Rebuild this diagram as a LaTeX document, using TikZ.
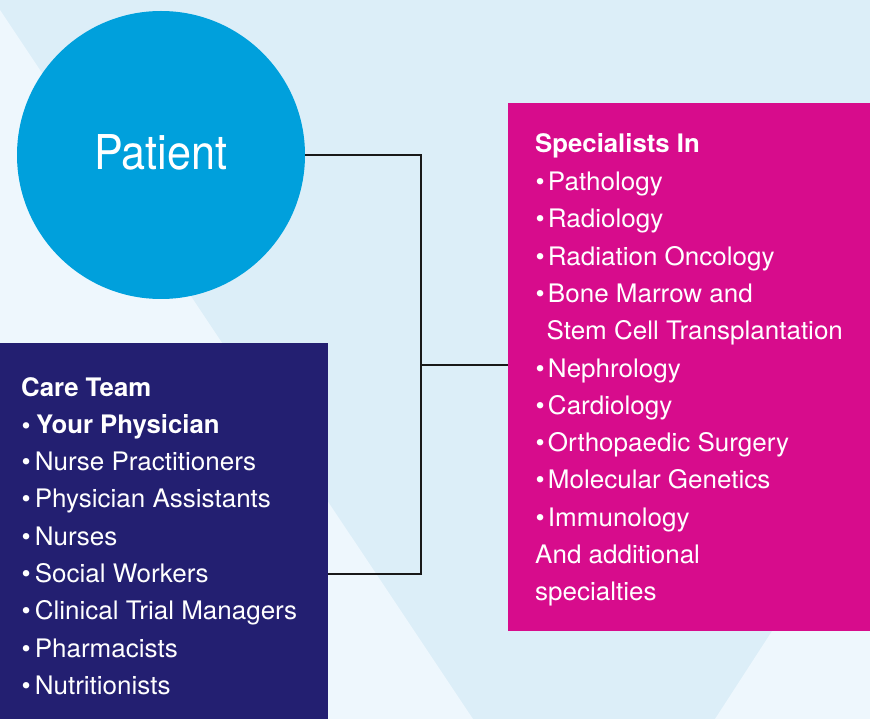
\documentclass[tikz,border=0pt]{standalone}
\usepackage{fontspec}
\setmainfont[UprightFeatures={FakeStretch=1.02},BoldFeatures={FakeStretch=1.01}]{TeX Gyre Heros}
\newfontfamily\patfont[FakeStretch=0.9]{TeX Gyre Heros}
\definecolor{bgmain}{HTML}{DCEEF8}
\definecolor{bglight}{HTML}{EEF7FD}
\definecolor{patblue}{HTML}{00A0DC}
\definecolor{careblue}{HTML}{231F71}
\definecolor{specmag}{HTML}{D70C8C}
\newcommand\bul{\makebox[12.3pt][l]{•}}
\newcommand\bulc{\makebox[13.1pt][l]{•}}
\newcommand\bulb{\makebox[14.5pt][l]{\bfseries •}}
\begin{document}
\begin{tikzpicture}[x=1pt,y=-1pt,
  txt/.style={anchor=base west,inner sep=0pt,text=white,font=\fontsize{25.5}{30}\selectfont},
  hd/.style={txt,font=\fontsize{25.5}{30}\selectfont\bfseries},
  conn/.style={draw=black!90,line width=1.3pt},
  boxstyle/.style={rectangle,anchor=north west,inner sep=0pt,draw=none}]
\useasboundingbox (0,0) rectangle (870,719);
% background
\fill[bgmain] (0,0) rectangle (870,719);
\fill[bglight] (0,10) -- (473,719) -- (0,719) -- cycle;
\fill[bglight] (715,719) -- (870,480) -- (870,719) -- cycle;
% patient
\node[circle,fill=patblue,minimum size=288pt,inner sep=0pt,text=white,
  font=\patfont\fontsize{48}{50}\selectfont] (patient) at (161,155) {\raisebox{5.5pt}{Patient}};
% boxes
\node[boxstyle,fill=careblue,minimum width=328pt,minimum height=376pt] (care) at (0,343) {};
\node[boxstyle,fill=specmag,minimum width=362pt,minimum height=528pt] (spec) at (508,103) {};
% connectors
\coordinate (jm) at (421,365);
\draw[conn] (patient.east) -| (jm);
\draw[conn] (jm) |- (care.north east |- 0,574);
\draw[conn] (jm) -- (spec.west |- jm);
% specialists text
\node[hd] (s0) at (535,153) {Specialists In};
\node[txt] (s1) at (535.5,190.5) {\bul Pathology};
\node[txt] (s2) at (535.5,227.8) {\bul Radiology};
\node[txt] (s3) at (535.5,265.1) {\bul Radiation Oncology};
\node[txt] (s4) at (535.5,302.4) {\bul Bone Marrow and};
\node[txt] (s5) at (546.5,339.7) {Stem Cell Transplantation};
\node[txt] (s6) at (535.5,377) {\bul Nephrology};
\node[txt] (s7) at (535.5,414.3) {\bul Cardiology};
\node[txt] (s8) at (535.5,451.6) {\bul Orthopaedic Surgery};
\node[txt] (s9) at (535.5,488.9) {\bul Molecular Genetics};
\node[txt] (s10) at (535.5,526.2) {\bul Immunology};
\node[txt] (s11) at (535,563.5) {And additional};
\node[txt] (s12) at (535,600.8) {specialties};
% care team text
\node[hd] (c0) at (21,396) {Care Team};
\node[hd] (c1) at (21.5,433.3) {\bulb Your Physician};
\node[txt] (c2) at (21.5,470.6) {\bulc Nurse Practitioners};
\node[txt] (c3) at (21.5,507.9) {\bulc Physician Assistants};
\node[txt] (c4) at (21.5,545.2) {\bulc Nurses};
\node[txt] (c5) at (21.5,582.5) {\bulc Social Workers};
\node[txt] (c6) at (21.5,619.8) {\bulc Clinical Trial Managers};
\node[txt] (c7) at (21.5,657.1) {\bulc Pharmacists};
\node[txt] (c8) at (21.5,694.4) {\bulc Nutritionists};
\end{tikzpicture}
\end{document}
